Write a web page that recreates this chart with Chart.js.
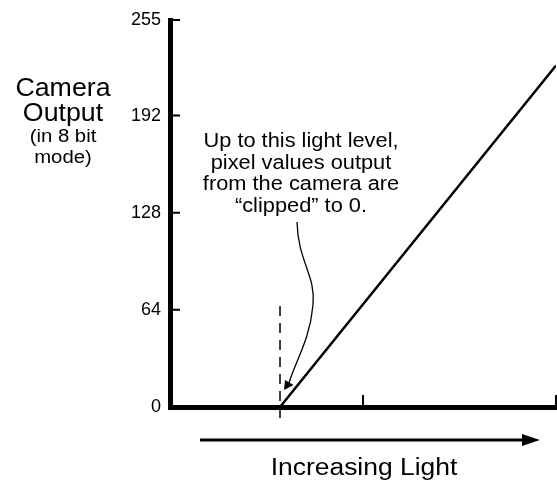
<!DOCTYPE html>
<html>
<head>
<meta charset="utf-8">
<script src="https://cdn.jsdelivr.net/npm/chart.js@4"></script>
<style>
  body { margin: 0; background: #fff; }
  canvas { display: block; }
</style>
</head>
<body>
<canvas id="chart" width="557" height="481"></canvas>
<script>
// light level (arbitrary units) vs. camera output (8 bit)
const lightLevels = [0, 0.57, 2];
const cameraOutput = [0, 0, 225];
const clipLevel = 0.57;
const yTickValues = [0, 64, 128, 192, 255];
const xTickValues = [0, 1, 2];

const yTitleLines = ['Camera', 'Output', '(in 8 bit', 'mode)'];
const noteLines = ['Up to this light level,', 'pixel values output', 'from the camera are', '\u201Cclipped\u201D to 0.'];
const xTitle = 'Increasing Light';

const FONT = '"Liberation Sans", Arial, Helvetica, sans-serif';
Chart.defaults.font.family = FONT;
Chart.defaults.color = '#000';

function stretchText(ctx, text, x, y, size, sx) {
  ctx.save();
  ctx.font = size + 'px ' + FONT;
  ctx.textAlign = 'center';
  ctx.textBaseline = 'alphabetic';
  ctx.translate(x, y);
  ctx.scale(sx, 1);
  ctx.fillText(text, 0, 0);
  ctx.restore();
}

// ticks drawn inward, dashed clip marker, note with curved arrow, titles
const decorations = {
  id: 'decorations',
  afterDraw(chart) {
    const ctx = chart.ctx;
    const xs = chart.scales.x;
    const ys = chart.scales.y;
    const area = chart.chartArea;
    ctx.save();
    ctx.strokeStyle = '#000';
    ctx.fillStyle = '#000';

    // inner tick marks
    ctx.lineWidth = 2;
    ctx.beginPath();
    yTickValues.forEach(v => {
      if (v === 0) return;
      const py = ys.getPixelForValue(v);
      ctx.moveTo(area.left, py);
      ctx.lineTo(area.left + 10, py);
    });
    xTickValues.forEach(v => {
      if (v === 0) return;
      const px = xs.getPixelForValue(v);
      ctx.moveTo(px, area.bottom);
      ctx.lineTo(px, area.bottom - 12);
    });
    ctx.stroke();

    // dashed line at the clip level
    const cx = xs.getPixelForValue(clipLevel);
    ctx.lineWidth = 1.5;
    ctx.setLineDash([10, 7]);
    ctx.beginPath();
    ctx.moveTo(cx, 306);
    ctx.lineTo(cx, 422);
    ctx.stroke();
    ctx.setLineDash([]);

    // note text
    noteLines.forEach((t, i) => stretchText(ctx, t, 301, 147 + i * 21.5, 20, 1.09));

    // curved arrow to the clip point
    ctx.lineWidth = 1.3;
    ctx.beginPath();
    ctx.moveTo(297, 222);
    ctx.bezierCurveTo(298, 262, 316, 275, 313, 305);
    ctx.bezierCurveTo(310, 340, 295, 362, 289, 383);
    ctx.stroke();
    ctx.beginPath();
    ctx.moveTo(cx + 4, 390);
    ctx.lineTo(cx + 5, 380);
    ctx.lineTo(cx + 13.5, 385);
    ctx.closePath();
    ctx.fill();

    // y title, horizontal
    stretchText(ctx, yTitleLines[0], 63, 96, 25, 1.07);
    stretchText(ctx, yTitleLines[1], 63, 121, 25, 1.07);
    stretchText(ctx, yTitleLines[2], 63, 142, 18, 1.13);
    stretchText(ctx, yTitleLines[3], 63, 163, 18, 1.13);

    // x arrow and title
    ctx.lineWidth = 3;
    ctx.beginPath();
    ctx.moveTo(200, 440);
    ctx.lineTo(526, 440);
    ctx.stroke();
    ctx.beginPath();
    ctx.moveTo(540, 440);
    ctx.lineTo(522, 434);
    ctx.lineTo(522, 446);
    ctx.closePath();
    ctx.fill();
    stretchText(ctx, xTitle, 364, 475, 23, 1.15);

    ctx.restore();
  }
};

new Chart(document.getElementById('chart').getContext('2d'), {
  type: 'scatter',
  data: {
    datasets: [{
      data: lightLevels.map((x, i) => ({ x: x, y: cameraOutput[i] })),
      showLine: true,
      borderColor: '#000',
      borderWidth: 2.5,
      pointRadius: 0,
      fill: false
    }]
  },
  options: {
    responsive: false,
    animation: false,
    events: [],
    layout: {
      padding: { left: 0, top: 20, right: 1, bottom: 74 }
    },
    plugins: {
      legend: { display: false },
      tooltip: { enabled: false }
    },
    scales: {
      x: {
        type: 'linear',
        min: 0,
        max: 2,
        grid: { display: false, drawTicks: false },
        border: { display: true, width: 5, color: '#000' },
        ticks: { display: false, stepSize: 1 },
        afterFit(scale) { scale.height = 0; }
      },
      y: {
        min: 0,
        max: 255,
        grid: { display: false, drawTicks: false },
        border: { display: true, width: 5, color: '#000' },
        ticks: { padding: 9, font: { size: 18 }, color: '#000' },
        afterBuildTicks(scale) {
          scale.ticks = yTickValues.map(v => ({ value: v }));
        },
        afterFit(scale) { scale.width = 170; }
      }
    }
  },
  plugins: [decorations]
});
</script>
</body>
</html>
